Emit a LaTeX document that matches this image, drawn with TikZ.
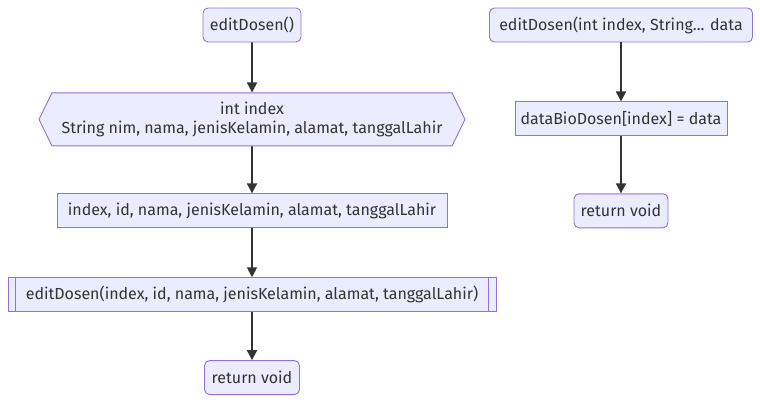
\documentclass[tikz,border=0pt]{standalone}
\usepackage{fontspec}
\setmainfont{Fira Sans}
\usepackage{tikz}
\usetikzlibrary{shapes.symbols, arrows.meta, positioning}

\definecolor{nodefill}{HTML}{ECECFF}
\definecolor{nodeline}{HTML}{9370DB}
\definecolor{textgray}{HTML}{333333}

\begin{document}
\begin{tikzpicture}[x=1pt, y=-1pt, node distance=50pt,
    base/.style={draw=nodeline, fill=nodefill, text=textgray, line width=0.9pt, minimum height=34pt, inner sep=0pt, font=\fontsize{16}{19}\selectfont, align=center},
    roundbox/.style={base, rectangle, rounded corners=5pt},
    plainbox/.style={base, rectangle},
    hexbox/.style={base, signal, signal to=west and east, signal pointer angle=128, minimum height=53pt},
    line/.style={draw=textgray, line width=1.8pt, -{Triangle[length=10pt, width=10pt]}}
]
    \useasboundingbox (0,0) rectangle (760,405);

    % left column
    \node [roundbox, minimum width=98pt] (start) at (252,25) {editDosen()};
    \node [hexbox, minimum width=426pt, below=of start] (vars) {int index\\String nim, nama, jenisKelamin, alamat, tanggalLahir};
    \node [plainbox, minimum width=390pt, below=47pt of vars] (args) {index, id, nama, jenisKelamin, alamat, tanggalLahir};
    \node [plainbox, minimum width=488pt, below=49pt of args] (call) {editDosen(index, id, nama, jenisKelamin, alamat, tanggalLahir)};
    \node [roundbox, minimum width=95pt, below=48pt of call] (ret) {return void};

    \draw [nodeline, line width=0.9pt] ([xshift=8pt]call.north west) -- ([xshift=8pt]call.south west);
    \draw [nodeline, line width=0.9pt] ([xshift=-8pt]call.north east) -- ([xshift=-8pt]call.south east);

    % right column
    \node [roundbox, minimum width=263pt] (over) at (621,25) {editDosen(int index, String... data};
    \node [plainbox, minimum width=212pt, below=59pt of over] (assign) {dataBioDosen[index] = data};
    \node [roundbox, minimum width=94pt, below=57pt of assign] (ret2) {return void};

    \path [line] (start) -- (vars);
    \path [line] (vars) -- (args);
    \path [line] (args) -- (call);
    \path [line] (call) -- (ret);
    \path [line] (over) -- (assign);
    \path [line] (assign) -- (ret2);
\end{tikzpicture}
\end{document}
